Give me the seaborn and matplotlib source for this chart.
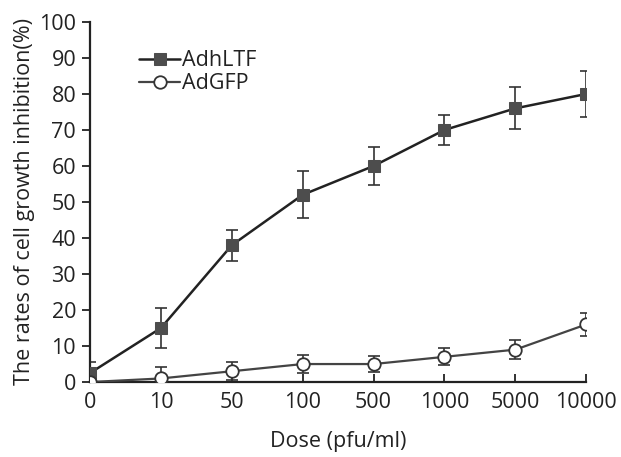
# dose-response chart: growth inhibition by AdhLTF vs AdGFP

import pandas as pd
import numpy as np
import matplotlib.pyplot as plt
import seaborn as sns

# data
doses = ['0', '10', '50', '100', '500', '1000', '5000', '10000']
ltf_mean = [2.5, 15, 38, 52, 60, 70, 76, 80]
ltf_err = [3, 5.5, 4.3, 6.5, 5.4, 4.2, 5.8, 6.3]
gfp_mean = [0, 1, 3, 5, 5, 7, 9, 16]
gfp_err = [0, 3.3, 2.5, 2.6, 2.2, 2.4, 2.7, 3.3]

sns.set_style('ticks')
plt.rcParams['font.family'] = ['Open Sans', 'DejaVu Sans']

pos = np.arange(len(doses))
df = pd.DataFrame({
    'pos': np.concatenate([pos, pos]),
    'rate': ltf_mean + gfp_mean,
    'group': ['AdhLTF'] * len(doses) + ['AdGFP'] * len(doses),
})

fig = plt.figure(figsize=(6.21, 4.57), dpi=100)
ax = fig.add_axes([0.145, 0.164, 0.799, 0.788])

# error bars first so markers sit on top
ax.errorbar(pos, ltf_mean, yerr=ltf_err, fmt='none', ecolor='#333333',
            elinewidth=1.2, capsize=4, capthick=1.2, zorder=2)
ax.errorbar(pos, gfp_mean, yerr=gfp_err, fmt='none', ecolor='#333333',
            elinewidth=1.2, capsize=4, capthick=1.2, zorder=2)

sns.lineplot(data=df[df['group'] == 'AdhLTF'], x='pos', y='rate', ax=ax,
             color='#222222', linewidth=1.8, marker='s', markersize=9,
             markerfacecolor='#4d4d4d', markeredgecolor='#4d4d4d',
             label='AdhLTF', zorder=3)
sns.lineplot(data=df[df['group'] == 'AdGFP'], x='pos', y='rate', ax=ax,
             color='#444444', linewidth=1.6, marker='o', markersize=9,
             markerfacecolor='white', markeredgecolor='#333333',
             markeredgewidth=1.3, label='AdGFP', zorder=3)

fs = 15.5
ax.set_xlim(0, 7)
ax.set_ylim(0, 100)
ax.set_xticks(pos)
ax.set_xticklabels(doses)
ax.set_yticks(range(0, 101, 10))
ax.tick_params(axis='x', direction='in', length=6, width=1.3, labelsize=fs,
               pad=7, color='#222222', labelcolor='#222222')
ax.tick_params(axis='y', direction='out', length=6, width=1.3, labelsize=fs,
               pad=4, color='#222222', labelcolor='#222222')
for s in ['left', 'bottom']:
    ax.spines[s].set_linewidth(1.6)
    ax.spines[s].set_color('#222222')
sns.despine(ax=ax)

ax.set_xlabel('Dose (pfu/ml)', fontsize=fs, color='#222222', labelpad=13)
ax.set_ylabel('The rates of cell growth inhibition(%)', fontsize=fs,
              color='#222222', labelpad=3)

ax.legend(loc='upper left', bbox_to_anchor=(0.06, 0.975), frameon=False,
          fontsize=fs, handlelength=1.9, handletextpad=0.1,
          labelspacing=0.1, labelcolor='#222222')

fig.savefig('out.png', dpi=100)
